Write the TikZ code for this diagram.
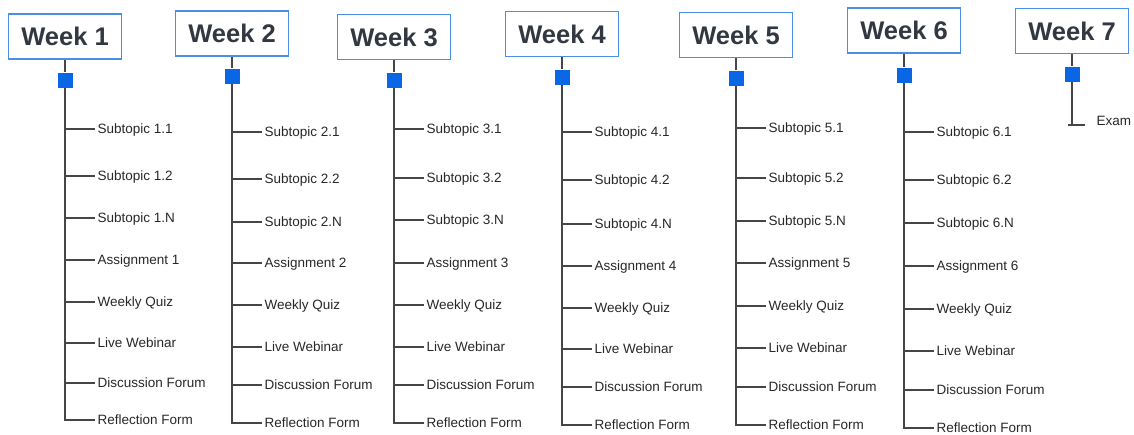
\documentclass[tikz,border=0pt]{standalone}
\usepackage{fontspec}
\setmainfont{Liberation Sans}
\usetikzlibrary{calc}
\definecolor{boxblue}{RGB}{74,144,226}
\definecolor{sqblue}{RGB}{10,102,228}
\definecolor{linegray}{RGB}{70,70,70}
\definecolor{weektext}{RGB}{50,56,66}
\definecolor{itemtext}{RGB}{40,40,40}
\tikzset{
  weekbox/.style={draw=boxblue, line width=1.5pt, fill=white, minimum width=113pt,
    minimum height=45pt, inner sep=0pt, font=\bfseries\fontsize{25.5}{30}\selectfont, text=weektext},
  sqnode/.style={fill=sqblue, minimum size=15pt, inner sep=0pt},
  item/.style={anchor=west, inner xsep=2.5pt, inner ysep=0pt, text height=8pt, text depth=0pt,
    font=\fontsize{13.5}{16}\selectfont, text=itemtext},
  trunk/.style={draw=linegray, line width=1.6pt, line join=miter},
  twig/.style={draw=linegray, line width=1.3pt},
}
\newcommand\itemlabel[2]{\ifcase#2\or Subtopic #1.1\or Subtopic #1.2\or Subtopic #1.N\or Assignment #1\or Weekly Quiz\or Live Webinar\or Discussion Forum\or Reflection Form\fi}
\newcommand\weekcol[5]{%
  \node[weekbox] (w#1) at (#2,#3) {Week #1};
  \node[sqnode] (s#1) at (#2,#4) {};
  \draw[trunk] (w#1.south) -- (s#1.north);
  \foreach \yy [count=\i] in {#5} {
    \coordinate (b#1-\i) at (#2,\yy);
    \node[item] (t#1-\i) at ([xshift=30pt]b#1-\i) {\itemlabel{#1}{\i}};
    \ifnum\i<8 \draw[twig] (b#1-\i) -- (t#1-\i.west);\fi
  }
  \draw[trunk] (s#1.south) -- (b#1-8) -- (t#1-8.west);
}
\begin{document}
\begin{tikzpicture}[x=1pt,y=-1pt]
  \fill[white] (0,0) rectangle (1134,434);
  \useasboundingbox (0,0) rectangle (1134,434);
  \weekcol{1}{65}{36.5}{80}{129,176,218,260,302,343,383,420}
  \weekcol{2}{232}{33.5}{76}{132,179,222,263,305,347,385,423}
  \weekcol{3}{394}{37}{80}{129,178,220,263,305,347,385,423}
  \weekcol{4}{562}{34}{77}{132,180,224,266,308,349,387,425}
  \weekcol{5}{736}{35}{78}{128,178,221,263,306,348,387,425}
  \weekcol{6}{904}{30.5}{75}{132,180,223,266,309,351,390,428}
  % Week 7
  \node[weekbox] (w7) at (1072,31) {Week 7};
  \node[sqnode] (s7) at (1072,74) {};
  \coordinate (e7) at (1072,125);
  \coordinate (e7l) at (1068,125);
  \coordinate (e7r) at (1085,125);
  \draw[trunk] (w7.south) -- (s7.north);
  \draw[trunk] (s7.south) -- (e7);
  \draw[trunk] (e7l) -- (e7r);
  \node[item] (exam) at (1094,121.5) {Exam};
\end{tikzpicture}
\end{document}
